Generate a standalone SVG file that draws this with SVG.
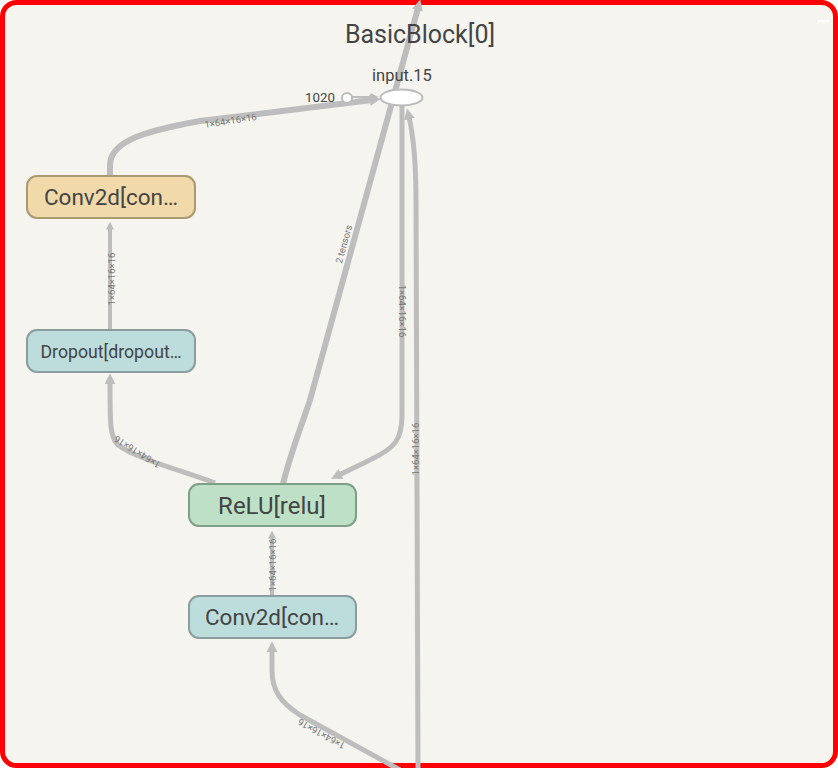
<svg xmlns="http://www.w3.org/2000/svg" width="838" height="768" viewBox="0 0 838 768">
<defs>
<style>
.edge{fill:none;stroke:#bdbdbd;stroke-linecap:butt}
.elab{font-family:Roboto,"Liberation Sans",sans-serif;font-size:9.5px;fill:#777;text-anchor:middle}
.ntext{font-family:Roboto,"Liberation Sans",sans-serif;fill:#444;text-anchor:middle}
.node rect{stroke-width:2}
</style>
<marker id="arr" viewBox="0 0 10 10" refX="2" refY="5" markerUnits="userSpaceOnUse" markerWidth="11" markerHeight="11" orient="auto">
<path d="M0,0 L10,5 L0,10 Z" fill="#bdbdbd"/>
</marker>
<marker id="arrs" viewBox="0 0 10 10" refX="2" refY="5" markerUnits="userSpaceOnUse" markerWidth="8" markerHeight="8" orient="auto">
<path d="M0,0 L10,5 L0,10 Z" fill="#bdbdbd"/>
</marker>
</defs>
<rect x="2.5" y="2.5" width="833" height="763" rx="14" fill="#f5f4ef" stroke="#ff0000" stroke-width="5"/>
<rect x="817" y="20" width="12" height="2.5" fill="#ffffff"/>

<g id="connectors">
<path class="edge" stroke-width="6" d="M110,176 L110,165 C110,140 150,130 200,121 L372,100" marker-end="url(#arr)"/>
<text class="elab" transform="translate(231,124) rotate(-9)">1×64×16×16</text>
<path class="edge" stroke-width="4" d="M110,330 L110,228" marker-end="url(#arrs)"/>
<text class="elab" transform="translate(115,279) rotate(-90)">1×64×16×16</text>
<path class="edge" stroke-width="5" d="M215,483 C180,470 135,458 118,445 C110,437 110,425 110,382" marker-end="url(#arr)"/>
<text class="elab" transform="translate(139,449) rotate(-148)">1×64×16×16</text>
<path class="edge" stroke-width="6" d="M283,484 C290,455 300,430 310,400 L418,8" marker-end="url(#arr)"/>
<text class="elab" transform="translate(347,245) rotate(-74.6)">2 tensors</text>
<path class="edge" stroke-width="5" d="M402,106 L402,415 C402,440 395,448 370,460 L339,475" marker-end="url(#arr)"/>
<text class="elab" transform="translate(399,311) rotate(90)">1×64×16×16</text>
<path class="edge" stroke-width="5" d="M418,770 L416,200 C416,150 412,130 409,117" marker-end="url(#arr)"/>
<text class="elab" transform="translate(419,449) rotate(-90)">1×64×16×16</text>
<path class="edge" stroke-width="5" d="M400,770 L300,715 C280,702 272,690 272,670 L272,650" marker-end="url(#arr)"/>
<text class="elab" transform="translate(323,731) rotate(-151)">1×64×16×16</text>
<path class="edge" stroke-width="4" d="M272,596 L272,537" marker-end="url(#arrs)"/>
<text class="elab" transform="translate(276,565) rotate(-90)">1×64×16×16</text>
<path class="edge" stroke-width="2" d="M352,97 L372,97" marker-end="url(#arrs)"/>
</g>

<text x="420" y="43" class="ntext" font-size="25" fill="#555">BasicBlock[0]</text>

<g id="input15">
<ellipse cx="401.5" cy="97.5" rx="21" ry="8" fill="#ffffff" stroke="#bbbbbb" stroke-width="2"/>
<text x="402" y="81" class="ntext" font-size="16.5" fill="#555">input.15</text>
</g>
<g id="const1020">
<circle cx="347" cy="98" r="5" fill="#ffffff" stroke="#bbbbbb" stroke-width="2"/>
<text x="335" y="102" font-family="Roboto,'Liberation Sans',sans-serif" font-size="13.3" fill="#444" text-anchor="end">1020</text>
</g>
<g id="conv2d_top" class="node">
<rect x="27" y="176" width="168" height="42" rx="10" fill="#f1d9a9" stroke="#aa9a72"/>
<text x="111" y="205" class="ntext" font-size="22.5">Conv2d[con…</text>
</g>
<g id="dropout" class="node">
<rect x="27" y="330" width="168" height="42" rx="10" fill="#bddcdc" stroke="#8a9e9e"/>
<text x="111" y="357.5" class="ntext" font-size="17.7">Dropout[dropout…</text>
</g>
<g id="relu" class="node">
<rect x="189" y="484" width="167" height="42" rx="10" fill="#bde0c6" stroke="#7f9e88"/>
<text x="272" y="513.5" class="ntext" font-size="24">ReLU[relu]</text>
</g>
<g id="conv2d_bottom" class="node">
<rect x="189" y="596" width="167" height="42" rx="10" fill="#bddcdc" stroke="#8a9e9e"/>
<text x="272" y="625" class="ntext" font-size="22.5">Conv2d[con…</text>
</g>
</svg>
